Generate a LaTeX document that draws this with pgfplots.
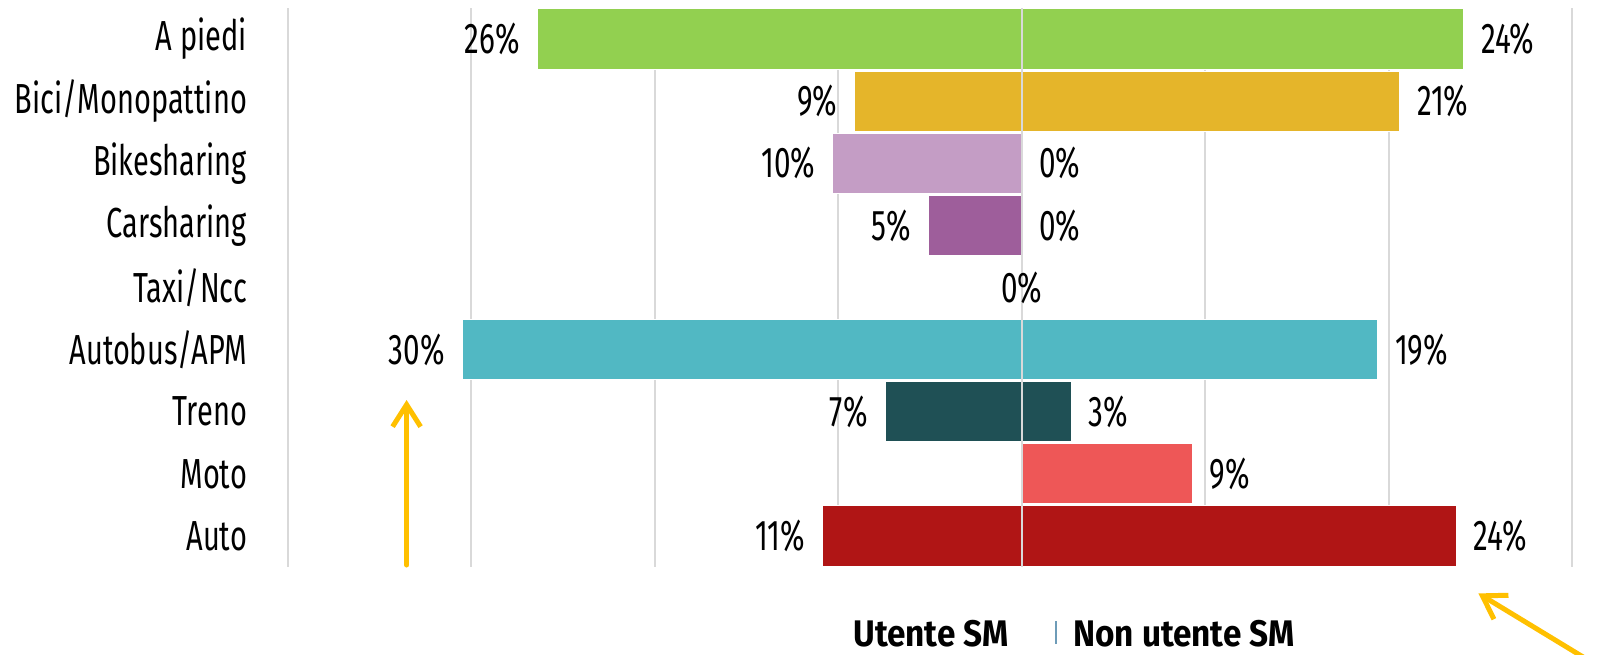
\documentclass[border=0pt]{standalone}
\usepackage{pgfplots}
\pgfplotsset{compat=1.18}
\usetikzlibrary{arrows.meta}
\usepackage{fontspec}
\setmainfont{Fira Sans}[FakeStretch=0.69]
\newfontfamily\legfont{Fira Sans}[FakeStretch=0.9]

\definecolor{gridgray}{HTML}{D9D9D9}
\definecolor{cPiedi}{HTML}{92D050}
\definecolor{cBici}{HTML}{E5B52A}
\definecolor{cBikesh}{HTML}{C49DC5}
\definecolor{cCarsh}{HTML}{9E5E9B}
\definecolor{cBus}{HTML}{51B8C3}
\definecolor{cTreno}{HTML}{1F5055}
\definecolor{cMoto}{HTML}{EE5757}
\definecolor{cAuto}{HTML}{B01515}
\definecolor{arrowc}{HTML}{FFC000}
\definecolor{legline}{HTML}{6E9CB8}

\pgfplotsset{
  lft/.style={every node near coord/.append style={anchor=east}},
  rgt/.style={every node near coord/.append style={anchor=west}},
}

\begin{document}
\begin{tikzpicture}
\begin{axis}[
  at={(0,0)}, anchor=south west,
  scale only axis, width=642pt, height=279.5pt,
  xmin=-40, xmax=30, ymin=-0.5, ymax=8.5,
  y dir=reverse,
  xtick={-40,-30,...,30}, xticklabels={},
  ytick={0,...,8},
  yticklabels={A piedi,Bici/Monopattino,Bikesharing,Carsharing,Taxi/Ncc,Autobus/APM,Treno,Moto,Auto},
  yticklabel style={font=\fontsize{21}{24}\selectfont, xshift=-17pt},
  major tick length=0pt,
  axis line style={draw=none},
  xmajorgrids, grid style={gridgray, line width=1pt},
  every axis plot/.append style={xbar, bar shift=0pt, bar width=0.97, draw=white, line width=0.5pt},
  point meta=explicit symbolic,
  nodes near coords={\pgfplotspointmeta\%},
  every node near coord/.append style={font=\fontsize{21.5}{24}\selectfont, text=black, inner xsep=8.5pt},
  clip=false,
]
% left = Utente SM
\addplot[lft, fill=cPiedi]  coordinates {(-26.4,0) [26]};
\addplot[lft, fill=cBici]   coordinates {(-9.1,1) [9]};
\addplot[lft, fill=cBikesh] coordinates {(-10.3,2) [10]};
\addplot[lft, fill=cCarsh]  coordinates {(-5.1,3) [5]};
\addplot[lft, fill=cBus]    coordinates {(-30.5,5) [30]};
\addplot[lft, fill=cTreno]  coordinates {(-7.45,6) [7]};
\addplot[lft, fill=cAuto]   coordinates {(-10.85,8) [11]};
% right = Non utente SM
\addplot[rgt, fill=cPiedi]  coordinates {(24.1,0) [24]};
\addplot[rgt, fill=cBici]   coordinates {(20.6,1) [21]};
\addplot[rgt, fill=cBikesh] coordinates {(0,2) [0]};
\addplot[rgt, fill=cCarsh]  coordinates {(0,3) [0]};
\addplot[rgt, fill=cBus]    coordinates {(19.4,5) [19]};
\addplot[rgt, fill=cTreno]  coordinates {(2.7,6) [3]};
\addplot[rgt, fill=cMoto]   coordinates {(9.3,7) [9]};
\addplot[rgt, fill=cAuto]   coordinates {(23.7,8) [24]};
% Taxi/Ncc: both zero, one centred label
\addplot[draw=none, fill=none, every node near coord/.append style={anchor=center, inner xsep=0pt}] coordinates {(0,4) [0]};
\draw[gridgray, line width=1pt] (axis cs:0,-0.5) -- (axis cs:0,8.5);
\end{axis}
% legend
\node[anchor=base west, inner sep=0pt, font=\legfont\fontsize{18.5}{22}\selectfont\bfseries] at (282.5pt,-39.5pt) {Utente SM};
\draw[legline, line width=0.8pt] (384pt,-38.5pt) -- (384pt,-27pt);
\node[anchor=base west, inner sep=0pt, font=\legfont\fontsize{18.5}{22}\selectfont\bfseries] at (392.5pt,-39.5pt) {Non utente SM};
% annotation arrows
\draw[arrowc, line width=2.5pt, line cap=round, -{Straight Barb[length=11pt, width=14pt]}] (59.3pt,1pt) -- (59.3pt,83.5pt);
\draw[arrowc, line width=2.5pt, line cap=round, -{Straight Barb[length=11pt, width=14pt]}] (650pt,-46.5pt) -- (595.2pt,-13.2pt);
\pgfresetboundingbox
\path (-144pt,-43.5pt) rectangle (655pt,283.5pt);
\end{tikzpicture}
\end{document}
